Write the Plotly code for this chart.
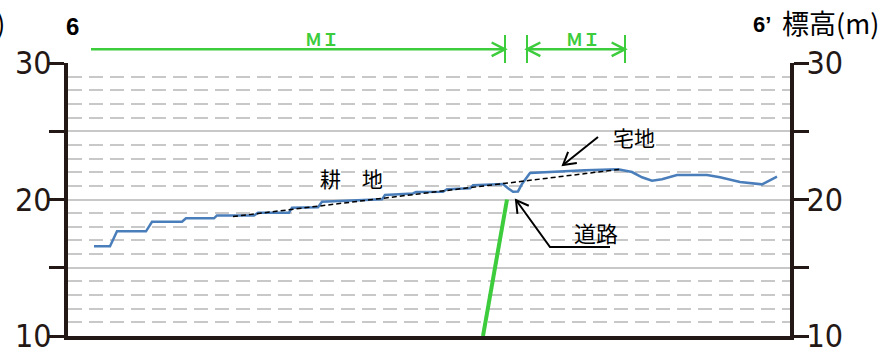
import math
import plotly.graph_objects as go

# ground profile along the section (distance, elevation m)
dist = [26, 42, 49, 78, 84, 114, 118, 146, 149, 186, 190, 221, 224, 250, 254,
        314, 317, 345, 348, 375, 379, 402, 405, 435, 440, 445, 450, 454, 462,
        485, 517, 550, 564, 574, 584, 594, 609, 639, 652, 672, 694, 709]
elev = [16.57, 16.57, 17.67, 17.67, 18.37, 18.37, 18.62, 18.62, 18.83, 18.82,
        19.03, 19.03, 19.40, 19.43, 19.84, 20.01, 20.33, 20.44, 20.55, 20.57,
        20.75, 20.82, 21.04, 21.14, 20.82, 20.57, 20.59, 21.14, 21.94, 22.04,
        22.14, 22.21, 22.01, 21.63, 21.38, 21.48, 21.80, 21.80, 21.63, 21.28,
        21.11, 21.67]

# dashed trend over the farmland
trend_dist = [165, 552]
trend_elev = [18.75, 22.21]

# green section line
cut_dist = [415, 439]
cut_elev = [10, 20]

ytick_vals = [10, 15, 20, 25, 30]
ytick_text = ["10", "", "20", "", "30"]

AX = "#231815"
GRID = "#c8c8c8"
GREEN = "#3ccc3c"
BLUE = "#4a7ebb"
NARROW = "Liberation Sans Narrow, Arial Narrow, DejaVu Sans Condensed, sans-serif"
JP = "Noto Sans CJK JP, sans-serif"

# plot area in pixels, used to place the decorations
L, R, T, B = 68, 790, 63, 336


def pp(x, y):
    return (x - L) / (R - L), (B - y) / (B - T)


fig = go.Figure()
fig.add_trace(go.Scatter(x=dist, y=elev, mode="lines",
                         line=dict(color=BLUE, width=2.5), hoverinfo="skip"))
fig.add_trace(go.Scatter(x=trend_dist, y=trend_elev, mode="lines",
                         line=dict(color="black", width=1.5, dash="5px,3px"), hoverinfo="skip"))
fig.add_trace(go.Scatter(x=cut_dist, y=cut_elev, mode="lines",
                         line=dict(color=GREEN, width=4), hoverinfo="skip", cliponaxis=False))
fig.add_trace(go.Scatter(x=[None], y=[None], yaxis="y2", hoverinfo="skip"))

shapes = []


def seg(pts, color, width):
    path = ""
    for i, (x, y) in enumerate(pts):
        a, b = pp(x, y)
        path += ("M" if i == 0 else "L") + f"{a:.5f},{b:.5f} "
    shapes.append(dict(type="path", path=path, xref="paper", yref="paper",
                       line=dict(color=color, width=width)))


def chevron(tx, ty, fx, fy, color, width, size=14, ang=30):
    a = math.atan2(fy - ty, fx - tx)
    p1 = (tx + size * math.cos(a + math.radians(ang)), ty + size * math.sin(a + math.radians(ang)))
    p2 = (tx + size * math.cos(a - math.radians(ang)), ty + size * math.sin(a - math.radians(ang)))
    seg([p1, (tx, ty), p2], color, width)


# MI markers on top
seg([(91, 49.3), (505, 49.3)], GREEN, 2.5)
chevron(505, 49.3, 91, 49.3, GREEN, 2.5, 15, 27)
seg([(505, 35), (505, 63)], GREEN, 2)
seg([(527, 35), (527, 63)], GREEN, 2)
seg([(625, 35), (625, 63)], GREEN, 2)
seg([(527, 49.3), (625, 49.3)], GREEN, 2.5)
chevron(527, 49.3, 625, 49.3, GREEN, 2.5, 15, 27)
chevron(625, 49.3, 527, 49.3, GREEN, 2.5, 15, 27)

# leader arrows
seg([(598, 137), (563, 165)], "black", 2)
chevron(563, 165, 598, 137, "black", 2)
seg([(516, 200), (550, 247), (610, 247)], "black", 2)
chevron(516, 200, 550, 247, "black", 2)

annotations = []


def label(x, y, text, size, color="black", family=JP, anchor="center"):
    a, b = pp(x, y)
    annotations.append(dict(x=a, y=b, xref="paper", yref="paper", text=text,
                            showarrow=False, xanchor=anchor, yanchor="middle",
                            font=dict(size=size, color=color, family=family)))


label(322, 38, "<b>ＭＩ</b>", 17, GREEN)
label(583, 38, "<b>ＭＩ</b>", 17, GREEN)
label(351, 178, "耕　地", 21)
label(634, 137, "宅地", 21)
label(596, 232, "道路", 22)
label(72, 26, "<b>6</b>", 24, family="Liberation Sans, Arial, sans-serif")
label(751, 24, "<b>6’</b>", 22, family="Liberation Sans, Arial, sans-serif", anchor="left")
label(780, 22, "標高(m)", 27, anchor="left")
label(7, 22, "標高(m)", 27, anchor="right")

yax = dict(range=[10, 30], tickvals=ytick_vals, ticktext=ytick_text,
           ticks="outside", ticklen=15, tickwidth=3, tickcolor=AX,
           showline=True, linewidth=4, linecolor=AX, zeroline=False,
           ticklabeloverflow="allow", automargin=False, ticklabelstandoff=-9,
           tickfont=dict(size=32, family=NARROW, color=AX))

fig.update_layout(
    width=887, height=352,
    margin=dict(l=L, r=887 - R, t=T, b=352 - B, pad=0, autoexpand=False),
    paper_bgcolor="white", plot_bgcolor="white",
    showlegend=False,
    xaxis=dict(range=[0, R - L], showline=True, linewidth=4, linecolor=AX,
               showgrid=False, zeroline=False, showticklabels=False, ticks="",
               automargin=False),
    yaxis=dict(**yax, side="left", showgrid=True, gridcolor=GRID, gridwidth=1.5,
               minor=dict(dtick=1, showgrid=True, gridcolor=GRID, gridwidth=1.5,
                          griddash="14px,7px")),
    yaxis2=dict(**yax, side="right", overlaying="y", anchor="x", showgrid=False),
    shapes=shapes,
    annotations=annotations,
)

# page body has a default margin, drop it so the figure sits at 0,0
fig.write_html("out.html", config={"displayModeBar": False},
               post_script="document.body.style.margin='0px';")
